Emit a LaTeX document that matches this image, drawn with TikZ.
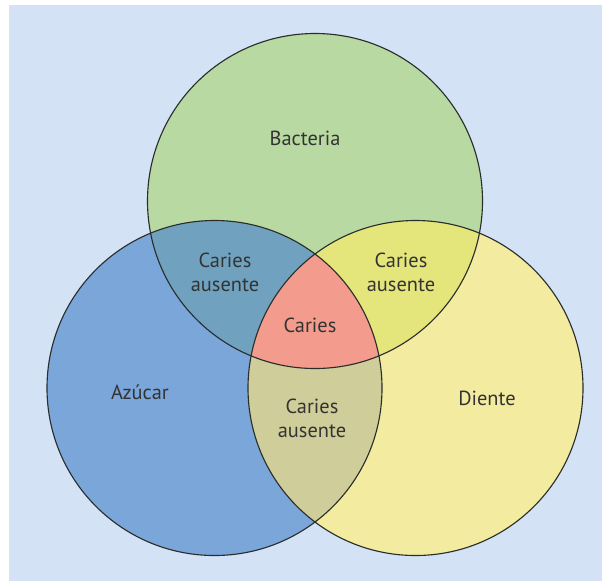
\documentclass[tikz,border=0pt]{standalone}
\usepackage{fontspec}
\setmainfont{PT Sans}
\usetikzlibrary{positioning}
\definecolor{Sky}{HTML}{D3E2F5}
\definecolor{Leaf}{HTML}{B9D9A3}
\definecolor{Ocean}{HTML}{7BA6DA}
\definecolor{Straw}{HTML}{F3EBA0}
\definecolor{Teal}{HTML}{70A2BF}
\definecolor{Lime}{HTML}{E4E67C}
\definecolor{Olive}{HTML}{CFCD99}
\definecolor{Salmon}{HTML}{F39B8C}
\definecolor{Ink}{HTML}{333333}
\definecolor{Rim}{HTML}{2A2E2A}
\newcommand{\rad}{167.5}
\tikzset{
  setfill/.style={circle, fill=#1, inner sep=0pt, minimum size=8.375cm},
  ring/.style={draw=Rim, line width=0.8pt},
}

\begin{document}
\begin{tikzpicture}[x=0.025cm, y=-0.025cm,
        lbl/.style={font=\fontsize{14.5}{17}\selectfont, text=Ink, align=center}
      ]
        \useasboundingbox (0,0) rectangle (602,581);
        \fill[Sky] (9,5) rectangle (602,581);
        \node[setfill=Leaf] (bact) at (315,201) {};
        \node[setfill=Ocean] (azu) at (214.5,388) {};
        \node[setfill=Straw] (dien) at (415.5,388) {};
        % overlaps
        \begin{scope}
          \clip (bact.center) circle[radius=\rad];
          \fill[Teal] (azu.center) circle[radius=\rad];
          \fill[Lime] (dien.center) circle[radius=\rad];
        \end{scope}
        \begin{scope}
          \clip (azu.center) circle[radius=\rad];
          \fill[Olive] (dien.center) circle[radius=\rad];
          \clip (dien.center) circle[radius=\rad];
          \fill[Salmon] (bact.center) circle[radius=\rad];
        \end{scope}
        \foreach \c in {bact,azu,dien}
          \draw[ring] (\c.center) circle[radius=\rad];
        \node[lbl] (tb) at (305,138) {Bacteria};
        \node[lbl] (ta) at (140,392) {Azúcar};
        \node[lbl] (td) at (487,398) {Diente};
        \node[lbl] (tab) at (225,272) {Caries\\ausente};
        \node[lbl] (tbd) at (401,272) {Caries\\ausente};
        \node[lbl] (tad) at (312,418) {Caries\\ausente};
        \node[lbl] (tc) at (310,325) {Caries};
      \end{tikzpicture}
\end{document}
